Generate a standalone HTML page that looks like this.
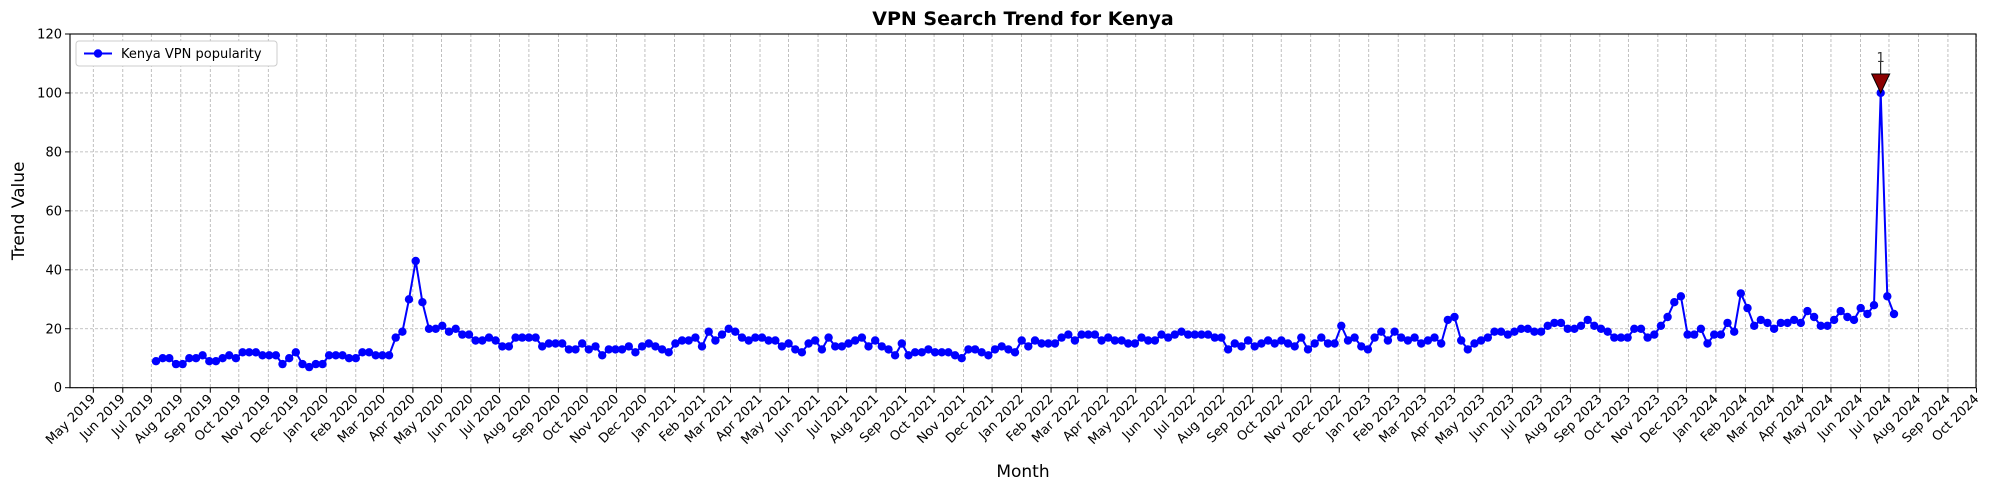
<!DOCTYPE html>
<html><head><meta charset="utf-8"><style>
html,body{margin:0;padding:0;background:#fff;}
svg{display:block;font-family:"DejaVu Sans","Liberation Sans",sans-serif;}
</style></head><body>
<svg id="c" width="1990" height="490" viewBox="0 0 1990 490" xmlns="http://www.w3.org/2000/svg"></svg>
<script>
const svg=document.getElementById('c');
const L=70,R=1976,T=34,B=387.7;
const X0=93.3,PD=0.9511;
const yv=v=>B-v*(B-T)/120;
let s='';
s+=`<rect x="0" y="0" width="1990" height="490" fill="#fff"/>`;
// grid y
for(let v=0;v<=120;v+=20){const y=yv(v);
 s+=`<line x1="${L}" x2="${R}" y1="${y}" y2="${y}" stroke="#b0b0b0" stroke-width="0.8" stroke-dasharray="3,2"/>`;
 s+=`<line x1="${L-5}" x2="${L}" y1="${y}" y2="${y}" stroke="#000" stroke-width="1"/>`;
 s+=`<text x="${L-8}" y="${y+4.5}" font-size="13" text-anchor="end">${v}</text>`;}
// x ticks monthly
const mn=['Jan','Feb','Mar','Apr','May','Jun','Jul','Aug','Sep','Oct','Nov','Dec'];
const base=Date.UTC(2019,4,1);
for(let k=0;k<66;k++){const m=(4+k)%12,yr=2019+Math.floor((4+k)/12);
 const d=(Date.UTC(yr,m,1)-base)/86400000;const x=X0+d*PD;
 s+=`<line x1="${x}" x2="${x}" y1="${T}" y2="${B}" stroke="#b0b0b0" stroke-width="0.8" stroke-dasharray="3,2"/>`;
 s+=`<line x1="${x}" x2="${x}" y1="${B}" y2="${B+5}" stroke="#000" stroke-width="1"/>`;
 s+=`<text transform="translate(${x+3},${B+12}) rotate(-45)" font-size="13" text-anchor="end">${mn[m]} ${yr}</text>`;}
// data
const v=[9,10,10,8,8,10,10,11,9,9,10,11,10,12,12,12,11,11,11,8,10,12,8,7,8,8,11,11,11,10,10,12,12,11,11,11,17,19,30,43,29,20,20,21,19,20,18,18,16,16,17,16,14,14,17,17,17,17,14,15,15,15,13,13,15,13,14,11,13,13,13,14,12,14,15,14,13,12,15,16,16,17,14,19,16,18,20,19,17,16,17,17,16,16,14,15,13,12,15,16,13,17,14,14,15,16,17,14,16,14,13,11,15,11,12,12,13,12,12,12,11,10,13,13,12,11,13,14,13,12,16,14,16,15,15,15,17,18,16,18,18,18,16,17,16,16,15,15,17,16,16,18,17,18,19,18,18,18,18,17,17,13,15,14,16,14,15,16,15,16,15,14,17,13,15,17,15,15,21,16,17,14,13,17,19,16,19,17,16,17,15,16,17,15,23,24,16,13,15,16,17,19,19,18,19,20,20,19,19,21,22,22,20,20,21,23,21,20,19,17,17,17,20,20,17,18,21,24,29,31,18,18,20,15,18,18,22,19,32,27,21,23,22,20,22,22,23,22,26,24,21,21,23,26,24,23,27,25,28,100,31,25];
const N=v.length,XE=1894,st=(XE-156)/(N-1);
const pts=v.map((a,i)=>[156+i*st,yv(a)]);
s+=`<polyline fill="none" stroke="#0000ff" stroke-width="2" points="${pts.map(p=>p[0].toFixed(1)+','+p[1].toFixed(1)).join(' ')}"/>`;
pts.forEach(p=>{s+=`<circle cx="${p[0].toFixed(1)}" cy="${p[1].toFixed(1)}" r="4.2" fill="#0000ff"/>`;});
// annotation
const pk=pts[v.indexOf(100)];
s+=`<line x1="${pk[0]}" y1="62" x2="${pk[0]}" y2="76" stroke="#000" stroke-width="1"/>`;
s+=`<polygon points="${pk[0]-9},74 ${pk[0]+9},74 ${pk[0]},${pk[1]}" fill="#8b0000" stroke="#000" stroke-width="1"/>`;
s+=`<text x="${pk[0]}" y="62" font-size="13" text-anchor="middle" fill="#333">1</text>`;
// spines
s+=`<rect x="${L}" y="${T}" width="${R-L}" height="${B-T}" fill="none" stroke="#000" stroke-width="1.1"/>`;
// legend
s+=`<rect x="76" y="41" width="201" height="25" rx="3" fill="#fff" stroke="#ccc" stroke-width="1"/>`;
s+=`<line x1="84" x2="112" y1="53.5" y2="53.5" stroke="#0000ff" stroke-width="2"/><circle cx="98" cy="53.5" r="4.2" fill="#0000ff"/>`;
s+=`<text x="121" y="58" font-size="13">Kenya VPN popularity</text>`;
// titles
s+=`<text x="${(L+R)/2}" y="25" font-size="19" font-weight="bold" text-anchor="middle">VPN Search Trend for Kenya</text>`;
s+=`<text x="${(L+R)/2}" y="477" font-size="17" text-anchor="middle">Month</text>`;
s+=`<text transform="translate(24,${(T+B)/2}) rotate(-90)" font-size="17" text-anchor="middle">Trend Value</text>`;
svg.innerHTML=s;
</script>
</body></html>
